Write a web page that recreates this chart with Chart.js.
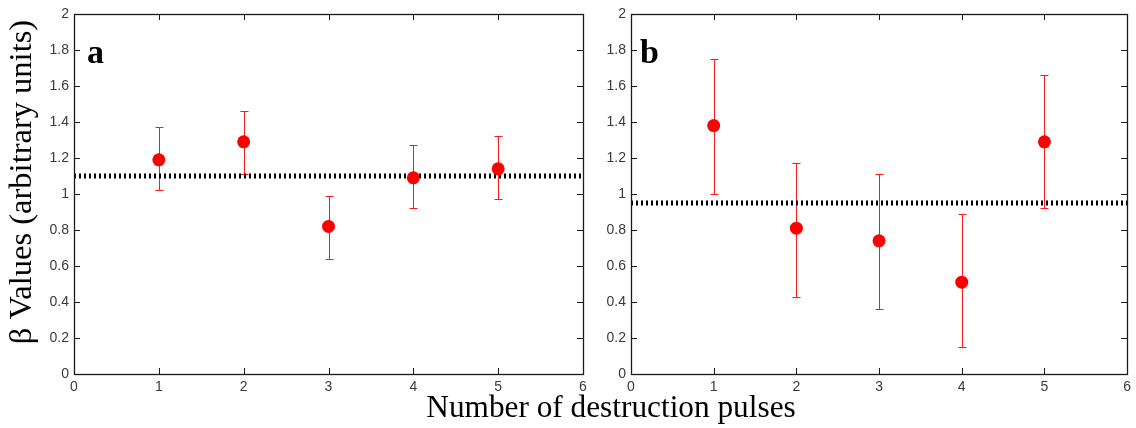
<!DOCTYPE html>
<html>
<head>
<meta charset="utf-8">
<script src="https://cdn.jsdelivr.net/npm/chart.js@4.4.1/dist/chart.umd.min.js"></script>
<style>
    html, body { margin: 0; padding: 0; background: #fff; }
    #page { position: relative; width: 1136px; height: 428px; overflow: hidden; }
    #wrap-a { position: absolute; left: 0; top: 0; width: 600px; height: 428px; }
    #wrap-b { position: absolute; left: 590px; top: 0; width: 546px; height: 428px; }
    .serif-title {
        position: absolute; font-family: "Liberation Serif", "Times New Roman", serif;
        white-space: nowrap; color: #000;
    }
    #x-title {
        left: 611px; top: 391px; transform: translateX(-50%);
        font-size: 31.3px; line-height: 31px;
    }
    #y-title {
        left: -180px; top: 166px; width: 400px; height: 32px; text-align: center;
        font-size: 32.5px; line-height: 32px; transform: rotate(-90deg);
    }
</style>
</head>
<body>
<div id="page">
    <div id="wrap-a"><canvas id="chart-a"></canvas></div>
    <div id="wrap-b"><canvas id="chart-b"></canvas></div>
    <div id="x-title" class="serif-title">Number of destruction pulses</div>
    <div id="y-title" class="serif-title">β Values (arbitrary units)</div>
</div>

<script>
// =========================================================================
// 1. DATA
// =========================================================================
var pulses = [1, 2, 3, 4, 5];

var betaA    = [1.19, 1.29, 0.82, 1.09, 1.14];
var errLowA  = [1.02, 1.11, 0.64, 0.92, 0.97];
var errHighA = [1.37, 1.46, 0.99, 1.27, 1.32];
var meanA    = 1.10;

var betaB    = [1.38, 0.81, 0.74, 0.51, 1.29];
var errLowB  = [1.00, 0.43, 0.36, 0.15, 0.92];
var errHighB = [1.75, 1.17, 1.11, 0.89, 1.66];
var meanB    = 0.95;

var xRange = [0, 6];
var yRange = [0, 2];
var yStep  = 0.2;


// =========================================================================
// 2. PLUGINS (error bars, box with inward ticks, panel letter)
// =========================================================================
var errorBarsPlugin = {
    id: 'errorBars',
    beforeDatasetsDraw(chart, args, opts) {
        var ctx = chart.ctx;
        var xs = chart.scales.x, ys = chart.scales.y;
        ctx.save();
        ctx.strokeStyle = '#ff1a1a';
        ctx.lineWidth = 1;
        pulses.forEach(function(p, i) {
            var x = Math.round(xs.getPixelForValue(p)) + 0.5;
            var yLo = Math.round(ys.getPixelForValue(opts.low[i])) + 0.5;
            var yHi = Math.round(ys.getPixelForValue(opts.high[i])) + 0.5;
            ctx.beginPath();
            ctx.moveTo(x, yLo); ctx.lineTo(x, yHi);
            ctx.moveTo(x - 4, yLo); ctx.lineTo(x + 4, yLo);
            ctx.moveTo(x - 4, yHi); ctx.lineTo(x + 4, yHi);
            ctx.stroke();
        });
        ctx.restore();
    }
};

var boxPlugin = {
    id: 'matlabBox',
    afterDraw(chart, args, opts) {
        var ctx = chart.ctx;
        var a = chart.chartArea;
        var xs = chart.scales.x, ys = chart.scales.y;
        var len = 6;
        ctx.save();
        ctx.strokeStyle = '#1a1a1a';
        ctx.lineWidth = 1;
        ctx.beginPath();
        xs.ticks.forEach(function(t) {
            var x = Math.round(xs.getPixelForValue(t.value)) + 0.5;
            ctx.moveTo(x, a.bottom); ctx.lineTo(x, a.bottom - len);
            ctx.moveTo(x, a.top);    ctx.lineTo(x, a.top + len);
        });
        ys.ticks.forEach(function(t) {
            var y = Math.round(ys.getPixelForValue(t.value)) + 0.5;
            ctx.moveTo(a.left, y);  ctx.lineTo(a.left + len, y);
            ctx.moveTo(a.right, y); ctx.lineTo(a.right - len, y);
        });
        ctx.stroke();
        ctx.lineWidth = 1.3;
        ctx.strokeRect(Math.round(a.left) + 0.5, Math.round(a.top) + 0.5,
                       Math.round(a.right - a.left), Math.round(a.bottom - a.top));

        // lettre du panneau
        ctx.fillStyle = '#000';
        ctx.font = 'bold 34px "Liberation Serif", "Times New Roman", serif';
        ctx.textBaseline = 'alphabetic';
        ctx.fillText(opts.letter, a.left + opts.dx, 63);
        ctx.restore();
    }
};


// =========================================================================
// 3. CHART BUILDER
// =========================================================================
function buildPanel(canvasId, cfg) {
    var ctx = document.getElementById(canvasId).getContext('2d');
    var tickFont = { family: '"Liberation Sans", Arial, sans-serif', size: 14 };

    return new Chart(ctx, {
        type: 'scatter',
        data: {
            datasets: [
                {
                    label: 'beta',
                    data: pulses.map((p, i) => ({ x: p, y: cfg.values[i] })),
                    backgroundColor: '#ff0000',
                    borderWidth: 0,
                    pointRadius: 6.5,
                    pointHoverRadius: 6.5,
                    order: 1
                },
                {
                    type: 'line',
                    label: 'mean',
                    data: [{ x: xRange[0], y: cfg.mean }, { x: xRange[1], y: cfg.mean }],
                    borderColor: '#000',
                    borderWidth: 5,
                    borderDash: [2, 3],
                    borderCapStyle: 'butt',
                    pointRadius: 0,
                    fill: false,
                    order: 2
                }
            ]
        },
        options: {
            responsive: true,
            maintainAspectRatio: false,
            animation: false,
            events: [],
            layout: { padding: { left: 0, top: 14, right: cfg.padRight, bottom: 0 } },
            plugins: {
                legend: { display: false },
                tooltip: { enabled: false },
                errorBars: { low: cfg.low, high: cfg.high },
                matlabBox: { letter: cfg.letter, dx: cfg.letterDx }
            },
            scales: {
                x: {
                    type: 'linear',
                    min: xRange[0], max: xRange[1],
                    grid: { display: false, drawTicks: false },
                    border: { display: false },
                    ticks: { stepSize: 1, padding: 5, color: '#3a3a3a', font: tickFont, maxRotation: 0 },
                    afterFit: function(scale) { scale.height = 54; }
                },
                y: {
                    min: yRange[0], max: yRange[1],
                    grid: { display: false, drawTicks: false },
                    border: { display: false },
                    ticks: {
                        stepSize: yStep, padding: 5, color: '#3a3a3a', font: tickFont,
                        callback: v => String(Math.round(v * 10) / 10)
                    },
                    afterFit: function(scale) { scale.width = cfg.axisWidth; }
                }
            }
        },
        plugins: [errorBarsPlugin, boxPlugin]
    });
}


// =========================================================================
// 4. INIT
// =========================================================================
buildPanel('chart-a', {
    values: betaA, low: errLowA, high: errHighA, mean: meanA,
    letter: 'a', letterDx: 13, axisWidth: 74, padRight: 17
});

buildPanel('chart-b', {
    values: betaB, low: errLowB, high: errHighB, mean: meanB,
    letter: 'b', letterDx: 9, axisWidth: 41, padRight: 5
});
</script>
</body>
</html>
